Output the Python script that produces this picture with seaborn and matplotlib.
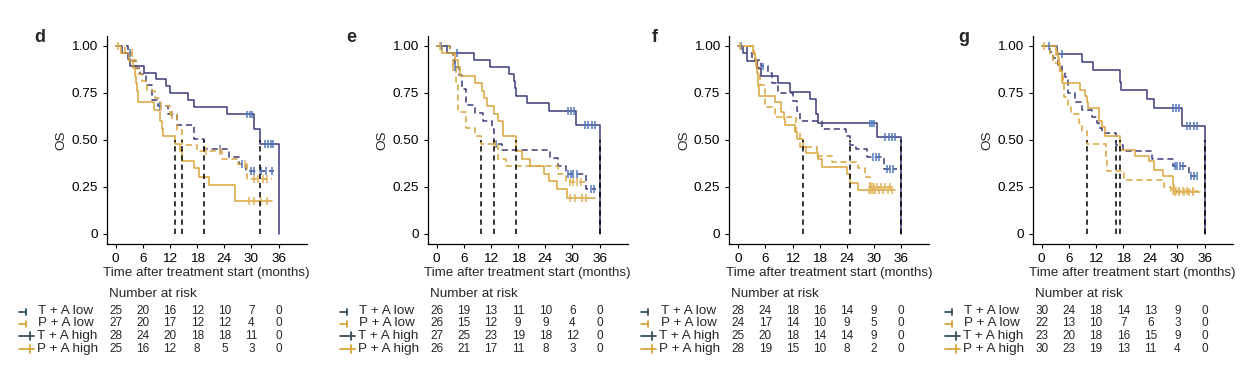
import numpy as np
import pandas as pd
import matplotlib.pyplot as plt
import seaborn as sns
from matplotlib.lines import Line2D
from matplotlib.transforms import blended_transform_factory

groups = ['T + A low', 'P + A low', 'T + A high', 'P + A high']
risk_times = [0, 6, 12, 18, 24, 30, 36]

# ---- panel d ----
d_tal_t = [0, 2.7, 3.5, 4.5, 5.3, 6.6, 8.0, 9.3, 11.5, 13.5, 17.3, 19.6, 25.0, 27.3, 28.8, 35.0]
d_tal_s = [1.0, 0.96, 0.92, 0.88, 0.85, 0.79, 0.71, 0.68, 0.635, 0.58, 0.507, 0.45, 0.41, 0.37, 0.333, 0.333]
d_tal_c = [3.2, 9.8, 12.5, 23.0, 28.0, 30.0, 30.6, 32.0, 33.3, 34.5]
d_pal_t = [0, 2.0, 3.6, 4.4, 5.0, 5.8, 7.0, 8.6, 9.8, 12.0, 13.5, 14.6, 18.0, 23.5, 27.0, 29.0, 34.5]
d_pal_s = [1.0, 0.963, 0.926, 0.889, 0.852, 0.815, 0.76, 0.72, 0.68, 0.63, 0.55, 0.47, 0.44, 0.40, 0.37, 0.29, 0.29]
d_pal_c = [3.5, 10.0, 12.5, 20.0, 23.0, 28.5, 30.5, 31.5, 32.5, 33.5]
d_tah_t = [0, 1.3, 2.6, 3.2, 6.3, 8.8, 11.0, 12.0, 15.9, 17.4, 24.6, 30.6, 31.9, 36.0]
d_tah_s = [1.0, 0.964, 0.929, 0.893, 0.857, 0.821, 0.786, 0.75, 0.714, 0.672, 0.635, 0.56, 0.48, 0.0]
d_tah_c = [29.0, 29.6, 30.2, 33.0, 33.6, 34.2, 34.8]
d_pah_t = [0, 1.1, 3.0, 3.8, 4.3, 4.5, 4.7, 4.9, 8.5, 9.8, 10.2, 10.5, 13.0, 14.3, 14.6, 17.2, 18.3, 20.7, 26.4, 34.5]
d_pah_s = [1.0, 0.96, 0.92, 0.88, 0.84, 0.80, 0.76, 0.70, 0.66, 0.60, 0.56, 0.52, 0.48, 0.44, 0.39, 0.35, 0.30, 0.26, 0.174, 0.174]
d_pah_c = [0.6, 29.5, 30.5, 32.0, 33.5]
d_medians = [13.0, 14.6, 19.6, 31.9]
d_risk_tal = [25, 20, 16, 12, 10, 7, 0]
d_risk_pal = [27, 20, 17, 12, 12, 4, 0]
d_risk_tah = [28, 24, 20, 18, 18, 11, 0]
d_risk_pah = [25, 16, 12, 8, 5, 3, 0]

# ---- panel e ----
e_tal_t = [0, 3.0, 3.5, 4.0, 5.0, 5.5, 6.4, 8.5, 10.3, 12.2, 12.7, 14.5, 25.1, 26.9, 28.5, 33.0, 35.3]
e_tal_s = [1.0, 0.962, 0.923, 0.885, 0.846, 0.77, 0.684, 0.645, 0.60, 0.557, 0.48, 0.447, 0.406, 0.362, 0.32, 0.24, 0.24]
e_tal_c = [4.1, 13.0, 29.0, 29.6, 30.2, 31.0, 34.0, 34.8]
e_pal_t = [0, 3.0, 3.7, 4.3, 4.6, 4.8, 6.4, 8.5, 9.8, 13.5, 15.3, 26.9, 28.5, 33.5]
e_pal_s = [1.0, 0.96, 0.885, 0.808, 0.73, 0.65, 0.565, 0.52, 0.48, 0.40, 0.36, 0.32, 0.274, 0.274]
e_pal_c = [3.7, 12.9, 29.5, 30.2, 31.0, 31.8]
e_tah_t = [0, 2.2, 8.3, 11.7, 15.9, 17.0, 17.3, 17.6, 19.9, 24.7, 30.8, 36.0]
e_tah_s = [1.0, 0.963, 0.926, 0.889, 0.852, 0.815, 0.778, 0.735, 0.696, 0.655, 0.58, 0.0]
e_tah_c = [1.0, 4.4, 29.0, 29.6, 30.3, 32.8, 33.5, 34.2, 35.0]
e_pah_t = [0, 1.1, 4.0, 4.6, 5.2, 8.5, 10.0, 10.4, 11.0, 12.7, 13.6, 14.6, 17.6, 18.8, 20.6, 23.7, 24.7, 26.5, 28.8, 35.0]
e_pah_s = [1.0, 0.962, 0.923, 0.885, 0.84, 0.80, 0.76, 0.724, 0.68, 0.64, 0.60, 0.52, 0.44, 0.40, 0.36, 0.32, 0.28, 0.24, 0.19, 0.19]
e_pah_c = [0.7, 29.5, 30.5, 32.0, 33.0]
e_medians = [9.8, 12.7, 17.6, 36.0]
e_risk_tal = [26, 19, 13, 11, 10, 6, 0]
e_risk_pal = [26, 15, 12, 9, 9, 4, 0]
e_risk_tah = [27, 25, 23, 19, 18, 12, 0]
e_risk_pah = [26, 21, 17, 11, 8, 3, 0]

# ---- panel f ----
f_tal_t = [0, 2.0, 3.0, 5.0, 6.5, 7.5, 8.8, 12.1, 12.9, 13.6, 18.4, 23.8, 24.7, 26.0, 28.5, 32.1, 35.0]
f_tal_s = [1.0, 0.964, 0.926, 0.89, 0.857, 0.80, 0.75, 0.707, 0.654, 0.60, 0.557, 0.52, 0.47, 0.45, 0.41, 0.346, 0.346]
f_tal_c = [5.5, 29.8, 30.4, 31.0, 32.8, 33.5, 34.2]
f_pal_t = [0, 3.5, 4.0, 4.4, 4.8, 5.8, 8.0, 12.8, 13.6, 17.3, 20.8, 26.5, 28.0, 29.0, 34.5]
f_pal_s = [1.0, 0.958, 0.917, 0.875, 0.79, 0.677, 0.624, 0.54, 0.46, 0.416, 0.38, 0.35, 0.30, 0.25, 0.25]
f_pal_c = [4.0, 29.5, 30.0, 30.7, 31.5, 32.5, 33.5]
f_tah_t = [0, 1.0, 1.9, 4.1, 5.1, 8.8, 11.4, 15.8, 17.2, 17.5, 30.6, 36.0]
f_tah_s = [1.0, 0.96, 0.92, 0.88, 0.84, 0.80, 0.756, 0.715, 0.64, 0.587, 0.513, 0.0]
f_tah_c = [0.5, 29.0, 29.5, 30.0, 32.5, 33.2, 33.9, 34.6]
f_pah_t = [0, 3.3, 3.6, 4.0, 4.2, 4.4, 4.6, 8.0, 9.5, 10.0, 10.3, 12.5, 13.0, 14.2, 15.0, 17.5, 18.4, 24.0, 24.7, 26.5, 34.7]
f_pah_s = [1.0, 0.964, 0.929, 0.893, 0.857, 0.786, 0.735, 0.70, 0.65, 0.61, 0.58, 0.54, 0.505, 0.46, 0.43, 0.40, 0.355, 0.32, 0.272, 0.232, 0.232]
f_pah_c = [0.4, 28.8, 29.3, 29.8, 30.3, 31.0, 32.0, 33.0, 34.0]
f_medians = [14.2, 24.7, 36.0]
f_risk_tal = [28, 24, 18, 16, 14, 9, 0]
f_risk_pal = [24, 17, 14, 10, 9, 5, 0]
f_risk_tah = [25, 20, 18, 14, 14, 9, 0]
f_risk_pah = [28, 19, 15, 10, 8, 2, 0]

# ---- panel g ----
g_tal_t = [0, 1.8, 2.4, 3.7, 4.4, 5.2, 5.9, 7.4, 8.9, 11.1, 12.1, 12.6, 13.3, 16.5, 18.0, 24.4, 28.9, 32.5, 35.0]
g_tal_s = [1.0, 0.967, 0.933, 0.90, 0.867, 0.833, 0.75, 0.70, 0.66, 0.62, 0.59, 0.563, 0.536, 0.47, 0.44, 0.40, 0.363, 0.31, 0.31]
g_tal_c = [1.5, 29.5, 30.0, 30.6, 31.2, 33.0, 33.6, 34.3]
g_pal_t = [0, 1.8, 2.4, 4.0, 4.6, 5.0, 5.9, 6.5, 8.3, 8.8, 10.0, 14.3, 14.5, 18.1, 27.0, 28.5, 34.5]
g_pal_s = [1.0, 0.955, 0.909, 0.864, 0.818, 0.727, 0.682, 0.636, 0.591, 0.545, 0.478, 0.40, 0.333, 0.285, 0.25, 0.23, 0.23]
g_pal_c = [3.9, 29.0, 29.6, 30.3, 31.2, 32.2, 33.5]
g_tah_t = [0, 3.3, 8.9, 11.3, 17.3, 17.6, 23.3, 24.8, 30.9, 36.0]
g_tah_s = [1.0, 0.957, 0.913, 0.87, 0.81, 0.766, 0.717, 0.67, 0.575, 0.0]
g_tah_c = [4.4, 29.0, 29.6, 30.3, 32.0, 32.8, 33.6, 34.4]
g_pah_t = [0, 3.1, 3.5, 3.8, 4.1, 4.5, 8.5, 9.6, 10.0, 10.3, 12.6, 13.3, 14.0, 17.4, 20.7, 23.7, 24.8, 26.7, 28.9, 29.2, 35.0]
g_pah_s = [1.0, 0.967, 0.933, 0.90, 0.867, 0.80, 0.767, 0.733, 0.70, 0.667, 0.60, 0.567, 0.519, 0.448, 0.416, 0.386, 0.342, 0.306, 0.26, 0.221, 0.221]
g_pah_c = [0.5, 3.2, 29.5, 30.3, 31.5, 32.5, 33.5]
g_medians = [10.0, 16.5, 17.4, 36.0]
g_risk_tal = [30, 24, 18, 14, 13, 9, 0]
g_risk_pal = [22, 13, 10, 7, 6, 3, 0]
g_risk_tah = [23, 20, 18, 16, 15, 9, 0]
g_risk_pah = [30, 23, 19, 13, 11, 4, 0]

navy = '#3a3c7a'
gold = '#d8a43c'
slate = '#36505f'
palette = {'T + A low': navy, 'P + A low': gold, 'T + A high': navy, 'P + A high': gold}
cens_palette = {'T + A low': '#5279bd', 'P + A low': '#e2b35a', 'T + A high': '#5279bd', 'P + A high': '#e2b35a'}
dashes = {'T + A low': (4, 2.5), 'P + A low': (4, 2.5), 'T + A high': '', 'P + A high': ''}
sym_colors = {'T + A low': slate, 'P + A low': gold, 'T + A high': slate, 'P + A high': gold}

panels = [
    ('d', [(d_tal_t, d_tal_s, d_tal_c), (d_pal_t, d_pal_s, d_pal_c), (d_tah_t, d_tah_s, d_tah_c), (d_pah_t, d_pah_s, d_pah_c)],
     d_medians, [d_risk_tal, d_risk_pal, d_risk_tah, d_risk_pah]),
    ('e', [(e_tal_t, e_tal_s, e_tal_c), (e_pal_t, e_pal_s, e_pal_c), (e_tah_t, e_tah_s, e_tah_c), (e_pah_t, e_pah_s, e_pah_c)],
     e_medians, [e_risk_tal, e_risk_pal, e_risk_tah, e_risk_pah]),
    ('f', [(f_tal_t, f_tal_s, f_tal_c), (f_pal_t, f_pal_s, f_pal_c), (f_tah_t, f_tah_s, f_tah_c), (f_pah_t, f_pah_s, f_pah_c)],
     f_medians, [f_risk_tal, f_risk_pal, f_risk_tah, f_risk_pah]),
    ('g', [(g_tal_t, g_tal_s, g_tal_c), (g_pal_t, g_pal_s, g_pal_c), (g_tah_t, g_tah_s, g_tah_c), (g_pah_t, g_pah_s, g_pah_c)],
     g_medians, [g_risk_tal, g_risk_pal, g_risk_tah, g_risk_pah]),
]

sns.set_style('ticks')
plt.rcParams['font.family'] = ['Liberation Sans', 'DejaVu Sans']

W, H = 1251, 373
fig = plt.figure(figsize=(W / 100, H / 100), dpi=100)

ax_left = [106.7, 427.7, 729.3, 1032.7]
letter_x = [40, 351, 655, 964]
ax_top, ax_bot, ax_w = 36, 243.5, 200
row_y = [311.5, 323.5, 336, 349]


def surv_at(t_list, s_list, x):
    i = np.searchsorted(t_list, x, side='right') - 1
    return s_list[i]


for k, (letter, curves, medians, risk) in enumerate(panels):
    ax = fig.add_axes([ax_left[k] / W, 1 - ax_bot / H, ax_w / W, (ax_bot - ax_top) / H])

    frames, cens = [], []
    for g, (tt, ss, cc) in zip(groups, curves):
        frames.append(pd.DataFrame({'time': tt, 'surv': ss, 'group': g}))
        cens.append(pd.DataFrame({'time': cc, 'surv': [surv_at(tt, ss, c) for c in cc], 'group': g}))
    df = pd.concat(frames, ignore_index=True)
    cdf = pd.concat(cens, ignore_index=True)

    sns.lineplot(data=df, x='time', y='surv', hue='group', style='group', palette=palette,
                 dashes=dashes, drawstyle='steps-post', estimator=None, sort=False,
                 linewidth=1.1, legend=False, ax=ax)
    sns.scatterplot(data=cdf, x='time', y='surv', hue='group', palette=cens_palette, marker='|',
                    s=32, linewidth=1.1, legend=False, ax=ax, zorder=3)
    ax.vlines(medians, 0, 0.5, colors='black', linestyles=(0, (3.5, 2.5)), linewidth=1.1, zorder=4)

    ax.set_xlim(-2, 42.2)
    ax.set_ylim(-0.051, 1.052)
    ax.set_xticks(risk_times)
    ax.set_yticks([0, 0.25, 0.5, 0.75, 1.0])
    ax.set_yticklabels(['0', '0.25', '0.50', '0.75', '1.00'])
    ax.tick_params(labelsize=9.7, length=3, width=0.8, colors='black')
    ax.tick_params(axis='x', pad=4)
    ax.tick_params(axis='y', pad=3.5)
    ax.set_xlabel('Time after treatment start (months)', fontsize=9.6, labelpad=1)
    ax.set_ylabel('OS', fontsize=9.7, labelpad=2.5)
    sns.despine(ax=ax)
    for sp in ['left', 'bottom']:
        ax.spines[sp].set_linewidth(0.9)
        ax.spines[sp].set_color('black')

    fig.text(letter_x[k] / W, 1 - 37 / H, letter, fontsize=13, fontweight='bold',
             ha='center', va='center')

    # number-at-risk table
    tr = blended_transform_factory(ax.transData, fig.transFigure)
    fig.text((ax_left[k] + 2) / W, 1 - 294 / H, 'Number at risk', fontsize=9.7, ha='left', va='center')
    lab_x = ax_left[k] - 70
    for g, counts, yp in zip(groups, risk, row_y):
        yf = 1 - yp / H
        low = 'low' in g
        fig.text((lab_x + (1.5 if low else 0)) / W, yf, g, fontsize=9.7, ha='left', va='center')
        c = sym_colors[g]
        if low:
            fig.add_artist(Line2D([(lab_x - 18) / W, (lab_x - 11) / W], [yf, yf], color=c, lw=1.3))
            fig.add_artist(Line2D([(lab_x - 11) / W] * 2, [yf - 3 / H, yf + 3 / H], color=c, lw=1.3))
        else:
            fig.add_artist(Line2D([(lab_x - 18) / W, (lab_x - 3) / W], [yf, yf], color=c, lw=1.3))
            fig.add_artist(Line2D([(lab_x - 7) / W] * 2, [yf - 4 / H, yf + 4 / H], color=c, lw=1.3))
        for t, n in zip(risk_times, counts):
            ax.text(t, yf, str(n), fontsize=8.5, ha='center', va='center', transform=tr, clip_on=False)

fig.savefig('out.png', dpi=100)
